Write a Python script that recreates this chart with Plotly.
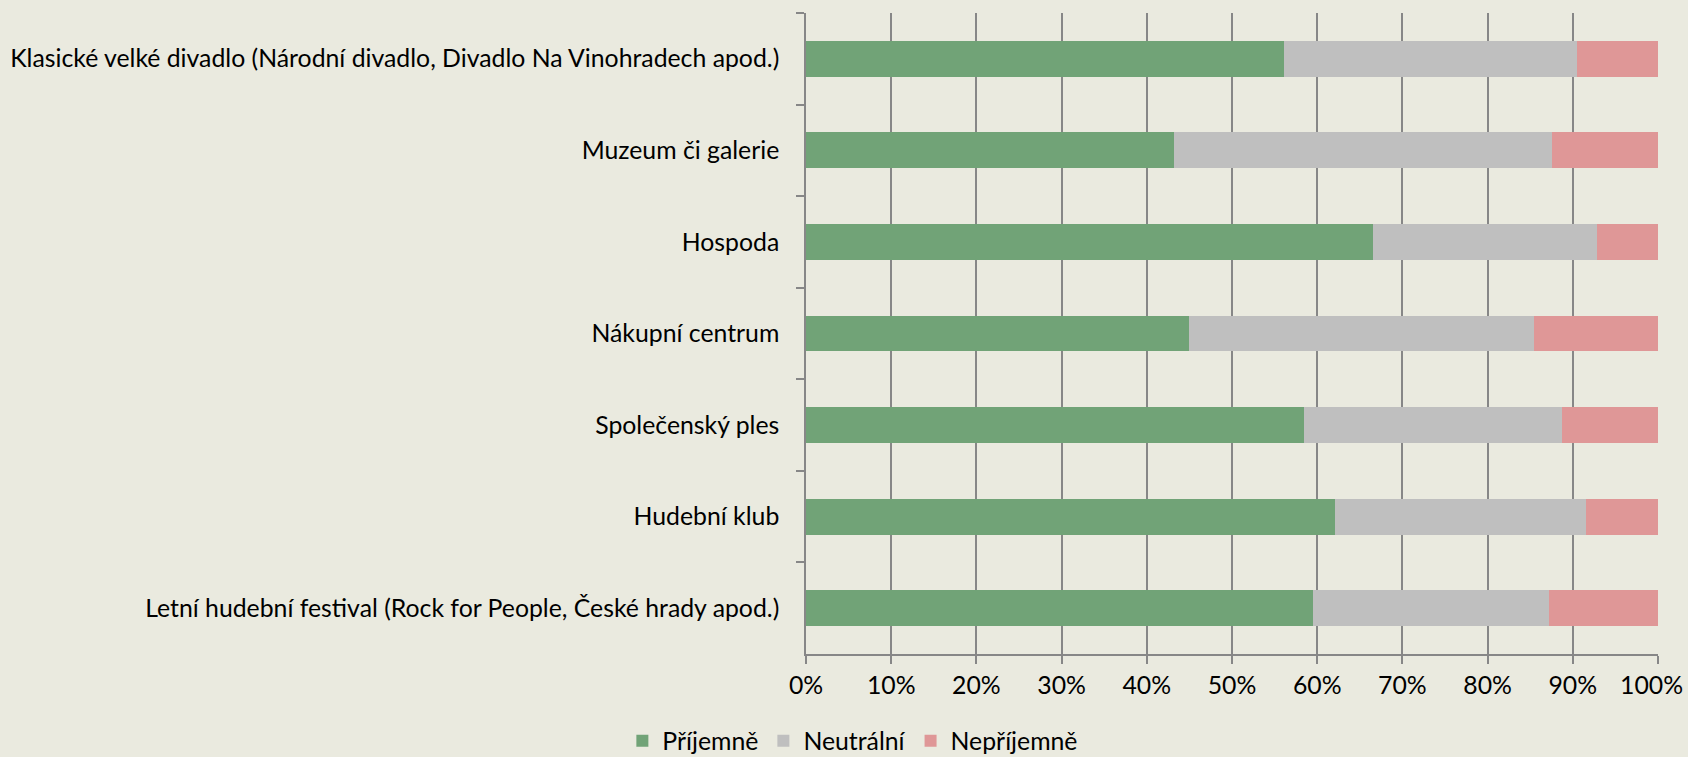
import plotly.graph_objects as go

categories = [
    "Klasické velké divadlo (Národní divadlo, Divadlo Na Vinohradech apod.)",
    "Muzeum či galerie",
    "Hospoda",
    "Nákupní centrum",
    "Společenský ples",
    "Hudební klub",
    "Letní hudební festival (Rock for People, České hrady apod.)",
]
prijemne = [56.1, 43.2, 66.5, 44.9, 58.5, 62.1, 59.5]
neutralni = [34.4, 44.4, 26.3, 40.5, 30.2, 29.4, 27.7]
neprijemne = [9.5, 12.4, 7.2, 14.6, 11.3, 8.5, 12.8]
tick_vals = [0, 10, 20, 30, 40, 50, 60, 70, 80, 90, 100]
tick_text = [f"{v}%" for v in tick_vals]

series = [
    ("Příjemně", prijemne, "#71A377"),
    ("Neutrální", neutralni, "#BFBFBF"),
    ("Nepříjemně", neprijemne, "#DF9797"),
]

fig = go.Figure()
for name, vals, color in series:
    fig.add_trace(go.Bar(
        y=categories, x=vals, name=name, orientation="h",
        marker=dict(color=color, line=dict(width=0)),
    ))

FONT = "Lato"
FS = 24.8

# the last tick label sits against the right edge in the reference,
# so it is drawn as an annotation nudged inward instead of a tick label
axis_text = tick_text[:-1] + [""]
fig.add_annotation(
    x=tick_vals[-1], xref="x", y=0, yref="paper",
    text=tick_text[-1], showarrow=False,
    xanchor="center", yanchor="middle", xshift=-7, yshift=-30,
    font=dict(family=FONT, size=FS, color="#000000"),
)

fig.update_layout(
    barmode="stack",
    bargap=0.607,
    width=1688, height=757,
    margin=dict(l=806, r=30, t=13, b=103, autoexpand=False),
    paper_bgcolor="#EAEADF",
    plot_bgcolor="#EAEADF",
    font=dict(family=FONT, size=FS, color="#000000"),
    showlegend=True,
    legend=dict(
        orientation="h", xref="paper", x=0.055, xanchor="center",
        yref="paper", y=-0.1, yanchor="top",
        font=dict(family=FONT, size=FS), traceorder="normal",
        itemwidth=30, bgcolor="rgba(0,0,0,0)",
    ),
    xaxis=dict(
        range=[0, 100], tickvals=tick_vals, ticktext=axis_text,
        showgrid=True, gridcolor="#878787", gridwidth=1.5,
        showline=True, linecolor="#878787", linewidth=1.5,
        ticks="outside", ticklen=8, tickcolor="#878787", tickwidth=1.5,
        zeroline=False, tickfont=dict(family=FONT, size=FS),
        ticklabeloverflow="allow", automargin=False,
    ),
    yaxis=dict(
        categoryorder="array", categoryarray=categories,
        autorange="reversed", automargin=False,
        showgrid=False, showline=True, linecolor="#878787", linewidth=1.5,
        ticks="outside", tickson="boundaries", ticklen=8,
        tickcolor="#878787", tickwidth=1.5, ticklabelstandoff=20,
        tickfont=dict(family=FONT, size=FS),
    ),
)

fig.write_html(
    "out.html",
    config={"displayModeBar": False},
    post_script="document.body.style.margin='0px';document.body.style.background='#EAEADF';",
)
